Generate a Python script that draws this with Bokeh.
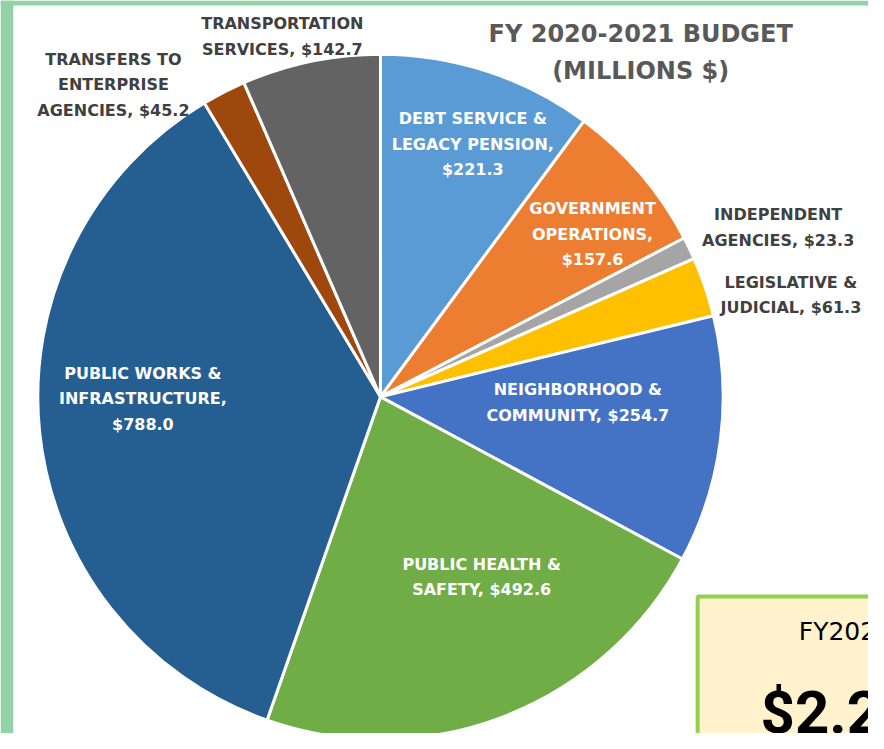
import numpy as np
from bokeh.plotting import figure
from bokeh.models import Range1d, ColumnDataSource
from bokeh.core.properties import value
from bokeh.embed import file_html
from bokeh.resources import INLINE

# ---- data ----
categories = ["Debt Service & Legacy Pension", "Government Operations", "Independent Agencies",
              "Legislative & Judicial", "Neighborhood & Community", "Public Health & Safety",
              "Public Works & Infrastructure", "Transfers to Enterprise Agencies",
              "Transportation Services"]
values = [221.3, 157.6, 23.3, 61.3, 254.7, 492.6, 788.0, 45.2, 142.7]
colors = ["#5B9BD5", "#ED7D31", "#A5A5A5", "#FFC000", "#4472C4", "#70AD47",
          "#255E91", "#9E480E", "#636363"]
label_lines = [
    ["DEBT SERVICE &", "LEGACY PENSION,", "$221.3"],
    ["GOVERNMENT", "OPERATIONS,", "$157.6"],
    ["INDEPENDENT", "AGENCIES, $23.3"],
    ["LEGISLATIVE &", "JUDICIAL, $61.3"],
    ["NEIGHBORHOOD &", "COMMUNITY, $254.7"],
    ["PUBLIC HEALTH &", "SAFETY, $492.6"],
    ["PUBLIC WORKS &", "INFRASTRUCTURE,", "$788.0"],
    ["TRANSFERS TO", "ENTERPRISE", "AGENCIES, $45.2"],
    ["TRANSPORTATION", "SERVICES, $142.7"],
]
title_lines = ["FY 2020-2021 BUDGET", "(MILLIONS $)"]
box_lines = ["FY2020-2021 TOTAL BUDGET", "$2.2 BILLION"]

# ---- layout: data units = reference-image pixels (y measured from top, flipped) ----
W, H = 868, 733
REF_W, REF_H = 884, 749
cx, cy_top, R = 387, 405, 349
label_pos = [(481, 121), (603, 213), (792, 219), (805, 288), (588, 398),
             (490, 576), (145, 381), (115, 60), (287, 24)]
label_gap = 26
inside = [True, True, False, False, True, True, True, False, False]


def py(y):
    return REF_H - y


p = figure(width=W, height=H, output_backend="svg", toolbar_location=None,
           x_range=Range1d(0, REF_W), y_range=Range1d(0, REF_H),
           min_border_left=0, min_border_right=0, min_border_top=0, min_border_bottom=0)
p.axis.visible = False
p.grid.visible = False
p.outline_line_color = None
p.background_fill_color = "white"
p.border_fill_color = "white"

# green page frame (left and top strips)
green = "#93D2A7"
p.quad(left=[0, 0], right=[13, REF_W], top=[REF_H, REF_H], bottom=[0, py(5)],
       fill_color=green, line_color=None)

vals = np.array(values)
cum = np.concatenate([[0], np.cumsum(vals)])
total = cum[-1]
start = np.pi / 2 - cum[:-1] / total * 2 * np.pi
end = np.pi / 2 - cum[1:] / total * 2 * np.pi
src = ColumnDataSource(dict(cat=categories, val=values, color=colors, start=start, end=end))
p.wedge(x=cx, y=py(cy_top), radius=R, start_angle="start", end_angle="end", direction="clock",
        fill_color="color", line_color="white", line_width=3, source=src)

font = value("DejaVu Sans")
xs, ys, ts, cs = [], [], [], []
for lines, (lx, ly), ins in zip(label_lines, label_pos, inside):
    for k, t in enumerate(lines):
        xs.append(lx)
        ys.append(py(ly + k * label_gap))
        ts.append(t)
        cs.append("white" if ins else "#404040")
p.text(x=xs, y=ys, text=ts, text_color=cs, text_align="center", text_baseline="middle",
       text_font=font, text_font_style="bold", text_font_size="16px")

p.text(x=[652, 652], y=[py(34), py(72)], text=title_lines, text_color="#595959",
       text_align="center", text_baseline="middle", text_font=font,
       text_font_style="bold", text_font_size="24px")

# total box (extends past the right edge, as in the reference)
p.quad(left=710, right=1000, top=py(609), bottom=py(800), fill_color="#FFF2CC",
       line_color="#92D050", line_width=4)
p.text(x=[813], y=[py(645)], text=[box_lines[0]], text_color="black", text_align="left",
       text_baseline="alphabetic", text_font=font, text_font_size="25px")
p.text(x=[774], y=[py(728)], text=[box_lines[1]], text_color="black", text_align="left",
       text_baseline="alphabetic", text_font=value("Roboto"), text_font_style="bold",
       text_font_size="60px")

open("out.html", "w").write(file_html(p, INLINE))
